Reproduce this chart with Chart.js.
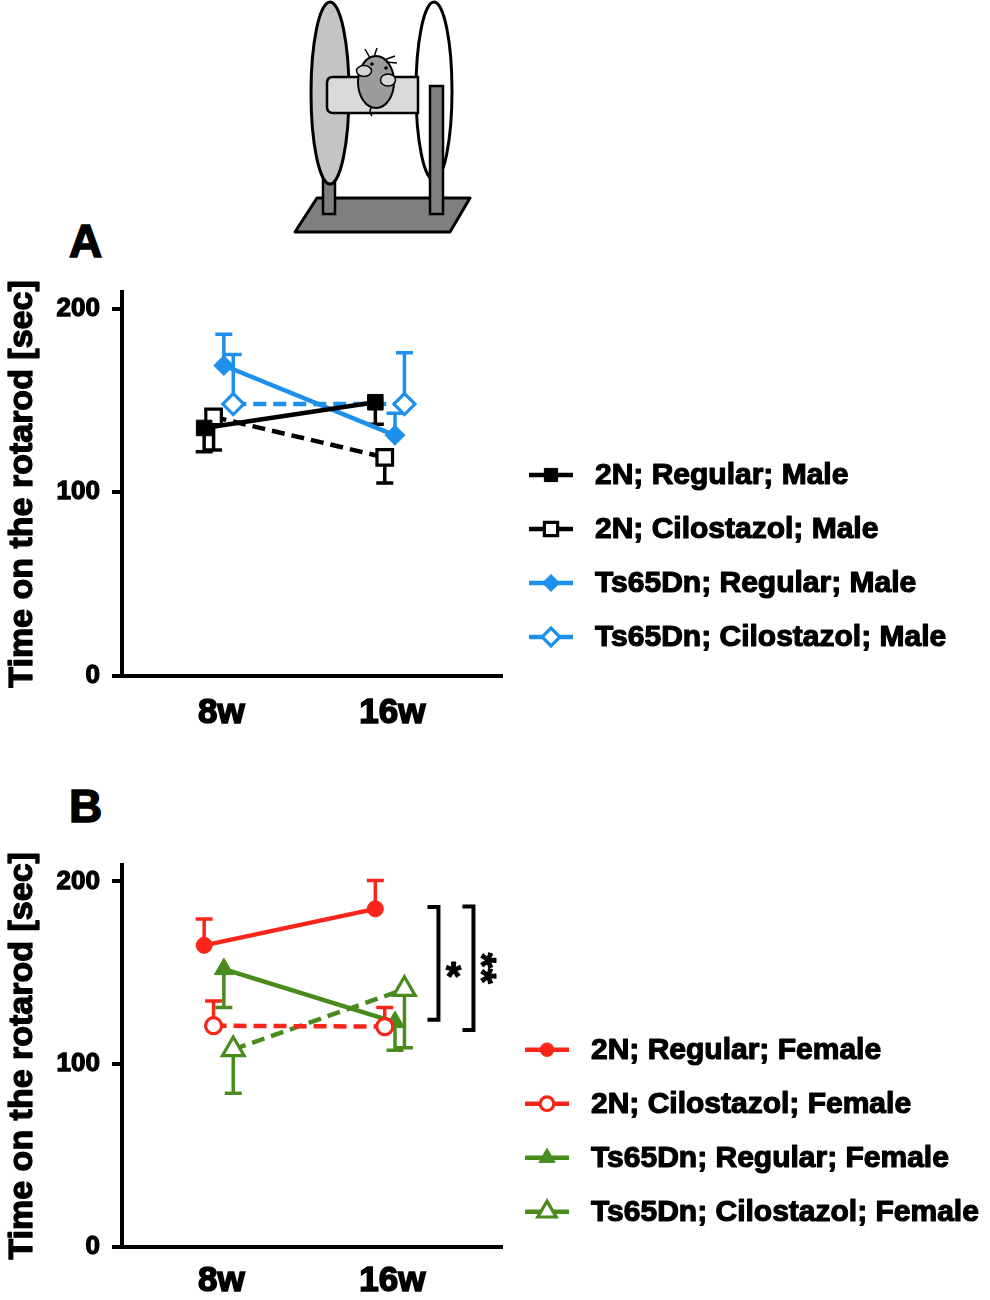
<!DOCTYPE html>
<html lang="en">
<head>
<meta charset="UTF-8">
<title>Rotarod</title>
<script src="https://cdn.jsdelivr.net/npm/chart.js@4"></script>
<style>
    body {
        margin: 0;
        background: #fff;
        width: 990px;
        height: 1300px;
        position: relative;
        overflow: hidden;
        font-family: "Liberation Sans", Arial, sans-serif;
    }
    canvas { position: absolute; left: 0; }
    .panel {
        position: absolute;
        font-weight: bold;
        font-size: 46px;
        line-height: 1;
        -webkit-text-stroke: 1.5px #000;
    }
    svg { position: absolute; left: 0; top: 0; }
</style>
</head>
<body>

<svg width="990" height="240" viewBox="0 0 990 240">
    <polygon points="295,232 317,198 470,198 450,232" fill="#7f7f7f" stroke="#000" stroke-width="3" stroke-linejoin="round"/>
    <rect x="323" y="170" width="12" height="44" fill="#7f7f7f" stroke="#000" stroke-width="2.5"/>
    <ellipse cx="330" cy="93" rx="19" ry="91" fill="#c4c4c4" stroke="#000" stroke-width="3"/>
    <ellipse cx="434" cy="91" rx="18" ry="89" fill="#fff" stroke="#000" stroke-width="3"/>
    <path d="M333,77 L418,77 L418,113 L333,113 Q327,113 327,107 L327,83 Q327,77 333,77 Z" fill="#d9d9d9" stroke="#000" stroke-width="2.5"/>
    <ellipse cx="376" cy="82" rx="18" ry="26" fill="#9c9c9c" stroke="#000" stroke-width="2"/>
    <ellipse cx="364" cy="71" rx="7.5" ry="5.5" fill="#d6d6d6" stroke="#000" stroke-width="1.5"/>
    <ellipse cx="388" cy="80" rx="7.5" ry="6" fill="#d6d6d6" stroke="#000" stroke-width="1.5"/>
    <circle cx="372" cy="64" r="1.8" fill="#000"/>
    <circle cx="386" cy="68" r="1.8" fill="#000"/>
    <path d="M370,58 L365,49 M374,57 L377,48 M384,60 L395,56 M386,62 L397,63" stroke="#000" stroke-width="1.5" fill="none"/>
    <path d="M372,107 Q368,111 372,116" stroke="#000" stroke-width="1.5" fill="none"/>
    <rect x="430" y="86" width="13" height="128" fill="#7f7f7f" stroke="#000" stroke-width="2.5"/>
</svg>

<div class="panel" style="left:69px;top:218px">A</div>
<div class="panel" style="left:69px;top:783px">B</div>

<canvas id="chartA" width="990" height="500" style="top:250px"></canvas>
<canvas id="chartB" width="990" height="470" style="top:830px"></canvas>

<script>
// values (seconds on the rotarod, mean and one-sided SEM)
var weeks = ['8w', '16w'];
var yTicks = [0, 100, 200];
var yTitle = 'Time on the rotarod [sec]';

var maleLabels = ['2N; Regular; Male', '2N; Cilostazol; Male', 'Ts65Dn; Regular; Male', 'Ts65Dn; Cilostazol; Male'];
var maleMeans = [[135, 149], [141, 119], [169, 131], [148, 148]];
var maleErrors = [[13, 12], [18, 14], [17, 12], [27, 28]];
var maleErrDir = [-1, -1, 1, 1];

var femaleLabels = ['2N; Regular; Female', '2N; Cilostazol; Female', 'Ts65Dn; Regular; Female', 'Ts65Dn; Cilostazol; Female'];
var femaleMeans = [[165, 185], [121, 120.5], [152, 123], [108, 141]];
var femaleErrors = [[14.5, 15.5], [13.5, 10.5], [21, 15.5], [24, 32]];
var femaleErrDir = [1, 1, -1, -1];

// significance brackets in panel B (value range)
var sigFrom = [186, 186.3];
var sigTo = [124.2, 118.7];
var sigText = ['*', '**'];

// styling
var FONT = '"Liberation Sans", Arial, sans-serif';
var jitter = [-0.1, -0.045, 0.015, 0.07];
var maleStyle = [
    { color: '#000000', point: 'rect', radius: 11, open: false, dash: [] },
    { color: '#000000', point: 'rect', radius: 11, open: true, dash: [13, 7] },
    { color: '#1E8FEA', point: 'rectRot', radius: 10, open: false, dash: [] },
    { color: '#1E8FEA', point: 'rectRot', radius: 10.5, open: true, dash: [13, 7] }
];
var femaleStyle = [
    { color: '#F8261A', point: 'circle', radius: 8, open: false, dash: [] },
    { color: '#F8261A', point: 'circle', radius: 8, open: true, dash: [13, 7] },
    { color: '#4A8B1E', point: 'triangle', radius: 11, open: false, dash: [] },
    { color: '#4A8B1E', point: 'triangle', radius: 12.5, open: true, dash: [13, 7] }
];

Chart.defaults.font.family = FONT;

function buildDatasets(labels, means, errors, dirs, styles) {
    return labels.map(function (label, s) {
        var st = styles[s];
        return {
            label: label,
            data: weeks.map(function (w, i) { return { x: i + 1 + jitter[s], y: means[s][i] }; }),
            errors: errors[s],
            errorDir: dirs[s],
            borderColor: st.color,
            borderWidth: 4.5,
            borderDash: st.dash,
            pointStyle: st.point,
            pointRadius: st.radius,
            pointHoverRadius: st.radius,
            pointBackgroundColor: st.open ? '#ffffff' : st.color,
            pointBorderColor: st.color,
            pointBorderWidth: st.open ? 3.2 : 1,
            fill: false,
            tension: 0
        };
    });
}

function drawMarker(ctx, style, x, y, r) {
    ctx.beginPath();
    if (style === 'rect') {
        var s = r * Math.SQRT1_2;
        ctx.rect(x - s, y - s, 2 * s, 2 * s);
    } else if (style === 'rectRot') {
        ctx.moveTo(x, y - r); ctx.lineTo(x + r, y); ctx.lineTo(x, y + r); ctx.lineTo(x - r, y);
        ctx.closePath();
    } else if (style === 'triangle') {
        for (var k = 0; k < 3; k++) {
            var a = k * 2 * Math.PI / 3;
            var px = x + Math.sin(a) * r, py = y - Math.cos(a) * r;
            if (k === 0) ctx.moveTo(px, py); else ctx.lineTo(px, py);
        }
        ctx.closePath();
    } else {
        ctx.arc(x, y, r, 0, 2 * Math.PI);
    }
}

function boldText(ctx, text, x, y, size, stroke) {
    ctx.font = 'bold ' + size + 'px ' + FONT;
    ctx.fillStyle = '#000';
    ctx.strokeStyle = '#000';
    ctx.lineWidth = stroke;
    ctx.lineJoin = 'round';
    ctx.setLineDash([]);
    ctx.strokeText(text, x, y);
    ctx.fillText(text, x, y);
}

var errorBars = {
    id: 'errorBars',
    beforeDatasetsDraw: function (chart) {
        var ctx = chart.ctx, yScale = chart.scales.y;
        chart.data.datasets.forEach(function (ds, di) {
            var meta = chart.getDatasetMeta(di);
            meta.data.forEach(function (pt, i) {
                var end = yScale.getPixelForValue(ds.data[i].y + ds.errors[i] * ds.errorDir);
                ctx.save();
                ctx.strokeStyle = ds.borderColor;
                ctx.lineWidth = 3.5;
                ctx.beginPath();
                ctx.moveTo(pt.x, pt.y); ctx.lineTo(pt.x, end);
                ctx.moveTo(pt.x - 8.5, end); ctx.lineTo(pt.x + 8.5, end);
                ctx.stroke();
                ctx.restore();
            });
        });
    }
};

var axisTitle = {
    id: 'axisTitle',
    afterDraw: function (chart) {
        var ctx = chart.ctx, a = chart.chartArea;
        ctx.save();
        ctx.translate(22, (a.top + a.bottom) / 2);
        ctx.rotate(-Math.PI / 2);
        ctx.textAlign = 'center';
        ctx.textBaseline = 'middle';
        boldText(ctx, yTitle, 0, 1, 34, 1.3);
        ctx.restore();
    }
};

var sideLegend = {
    id: 'sideLegend',
    afterDraw: function (chart, args, opts) {
        var ctx = chart.ctx;
        var top = chart.chartArea.bottom + opts.firstRow;
        chart.data.datasets.forEach(function (ds, i) {
            var y = top + i * opts.rowGap;
            ctx.save();
            ctx.strokeStyle = ds.borderColor;
            ctx.lineWidth = 4.5;
            ctx.beginPath();
            ctx.moveTo(opts.x, y); ctx.lineTo(opts.x + 44, y);
            ctx.stroke();
            drawMarker(ctx, ds.pointStyle, opts.x + 22, y, ds.pointRadius * 0.85);
            ctx.fillStyle = ds.pointBackgroundColor;
            ctx.fill();
            ctx.lineWidth = ds.pointBorderWidth;
            ctx.stroke();
            ctx.textBaseline = 'middle';
            ctx.textAlign = 'left';
            boldText(ctx, ds.label, opts.x + 66, y + 1, 30, 1.2);
            ctx.restore();
        });
    }
};

var sigBrackets = {
    id: 'sigBrackets',
    afterDatasetsDraw: function (chart, args, opts) {
        if (!opts.show) return;
        var ctx = chart.ctx, yScale = chart.scales.y;
        var base = chart.scales.x.getPixelForValue(2);
        sigText.forEach(function (t, i) {
            var x = base + opts.offsets[i];
            var y1 = yScale.getPixelForValue(sigFrom[i]);
            var y2 = yScale.getPixelForValue(sigTo[i]);
            ctx.save();
            ctx.strokeStyle = '#000';
            ctx.lineWidth = 4;
            ctx.beginPath();
            ctx.moveTo(x - 11, y1); ctx.lineTo(x, y1); ctx.lineTo(x, y2); ctx.lineTo(x - 11, y2);
            ctx.stroke();
            ctx.font = 'bold 40px ' + FONT;
            ctx.textAlign = 'center';
            ctx.textBaseline = 'alphabetic';
            var m = ctx.measureText(t);
            var h = m.actualBoundingBoxAscent - m.actualBoundingBoxDescent;
            ctx.translate(x + opts.textGap, (y1 + y2) / 2 + opts.textShift[i]);
            if (opts.rotate[i]) ctx.rotate(Math.PI / 2);
            boldText(ctx, t, 0, h / 2, 40, 1);
            ctx.restore();
        });
    }
};

function makeOptions(xAxisHeight, padTop, xPad, legendX, firstRow, bracketOpts) {
    return {
        responsive: false,
        animation: false,
        layout: { padding: { left: 0, right: 488, top: padTop, bottom: 0 } },
        scales: {
            x: {
                type: 'linear',
                min: 0.42,
                max: 2.64,
                afterBuildTicks: function (s) { s.ticks = weeks.map(function (w, i) { return { value: i + 1 }; }); },
                afterFit: function (s) { s.height = xAxisHeight; },
                ticks: {
                    callback: function (v, i) { return weeks[i]; },
                    color: '#000',
                    font: { size: 35, weight: 'bold' },
                    textStrokeColor: '#000',
                    textStrokeWidth: 1.6,
                    padding: xPad,
                    maxRotation: 0
                },
                grid: { display: false, drawTicks: false },
                border: { display: true, color: '#000', width: 4 }
            },
            y: {
                min: 0,
                max: 209,
                afterBuildTicks: function (s) { s.ticks = yTicks.map(function (v) { return { value: v }; }); },
                afterFit: function (s) { s.width = 122; },
                ticks: {
                    color: '#000',
                    font: { size: 26, weight: 'bold' },
                    textStrokeColor: '#000',
                    textStrokeWidth: 1.3,
                    padding: 12
                },
                grid: { display: true, drawOnChartArea: false, drawTicks: true, tickLength: 10, color: '#000', lineWidth: 4 },
                border: { display: true, color: '#000', width: 4 },
                title: { display: false }
            }
        },
        plugins: {
            legend: { display: false },
            tooltip: { enabled: false },
            sideLegend: { x: legendX, firstRow: firstRow, rowGap: 54 },
            sigBrackets: bracketOpts
        }
    };
}

var chartA = new Chart(document.getElementById('chartA').getContext('2d'), {
    type: 'line',
    data: { datasets: buildDatasets(maleLabels, maleMeans, maleErrors, maleErrDir, maleStyle) },
    options: makeOptions(74, 42, 16, 529, -201, { show: false }),
    plugins: [errorBars, axisTitle, sideLegend, sigBrackets]
});

var chartB = new Chart(document.getElementById('chartB').getContext('2d'), {
    type: 'line',
    data: { datasets: buildDatasets(femaleLabels, femaleMeans, femaleErrors, femaleErrDir, femaleStyle) },
    options: makeOptions(53.3, 35, 14, 525, -197, {
        show: true,
        offsets: [46, 81],
        textGap: 15,
        textShift: [7, 0],
        rotate: [false, true]
    }),
    plugins: [errorBars, axisTitle, sideLegend, sigBrackets]
});
</script>

</body>
</html>
